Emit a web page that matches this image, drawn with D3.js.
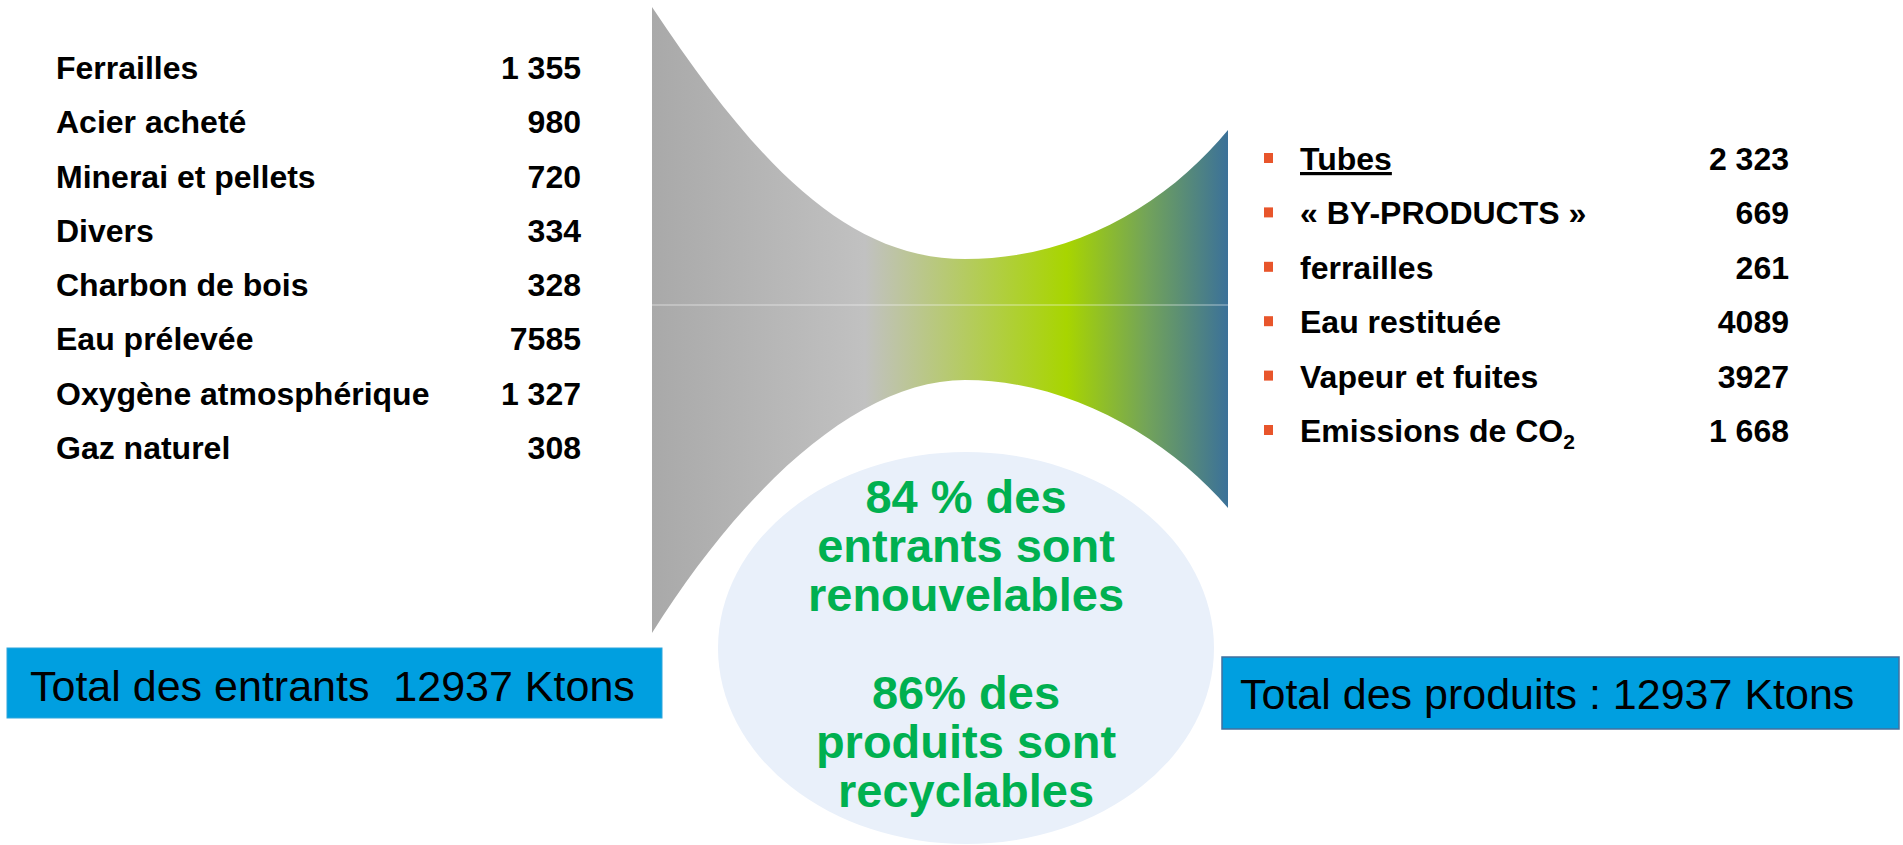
<!DOCTYPE html>
<html>
<head>
<meta charset="utf-8">
<script src="https://cdn.jsdelivr.net/npm/d3@7"></script>
<style>
  body { margin: 0; background: #fff; }
  svg { display: block; font-family: "Liberation Sans", Arial, sans-serif; }
</style>
</head>
<body>
<svg width="1903" height="845"></svg>
<script>
// entrants (Ktons)
var inputLabels = ["Ferrailles", "Acier acheté", "Minerai et pellets", "Divers",
                   "Charbon de bois", "Eau prélevée", "Oxygène atmosphérique", "Gaz naturel"];
var inputValues = [1355, 980, 720, 334, 328, 7585, 1327, 308];
var inputText   = ["1 355", "980", "720", "334", "328", "7585", "1 327", "308"];

// produits (Ktons)
var outputLabels = ["Tubes", "« BY-PRODUCTS »", "ferrailles", "Eau restituée",
                    "Vapeur et fuites", "Emissions de CO"];
var outputValues = [2323, 669, 261, 4089, 3927, 1668];
var outputText   = ["2 323", "669", "261", "4089", "3927", "1 668"];

var totalIn = "Total des entrants  12937 Ktons";
var totalOut = "Total des produits : 12937 Ktons";
var bubbleLines = ["84 % des", "entrants sont", "renouvelables", "",
                   "86% des", "produits sont", "recyclables"];

var svg = d3.select("svg");

/* funnel shape */
var defs = svg.append("defs");
var grad = defs.append("linearGradient")
    .attr("id", "funnelGrad")
    .attr("gradientUnits", "userSpaceOnUse")
    .attr("x1", 652).attr("x2", 1228).attr("y1", 0).attr("y2", 0);
[[0, "#a9a9a9"], [0.37, "#c1c1c1"], [0.72, "#a8d500"], [0.86, "#72a35a"], [1, "#3b7199"]]
  .forEach(function(s) {
    grad.append("stop").attr("offset", s[0]).attr("stop-color", s[1]);
  });

var p = d3.path();
p.moveTo(652, 7);
p.bezierCurveTo(760, 170, 850, 259, 965, 259);
p.bezierCurveTo(1080, 259, 1170, 200, 1228, 130);
p.lineTo(1228, 508);
p.bezierCurveTo(1170, 440, 1070, 380, 965, 380);
p.bezierCurveTo(860, 380, 745, 485, 652, 633);
p.closePath();

svg.append("path")
    .attr("d", p.toString())
    .attr("fill", "url(#funnelGrad)");

svg.append("line")
    .attr("x1", 652).attr("x2", 1228)
    .attr("y1", 305).attr("y2", 305)
    .attr("stroke", "#ffffff").attr("stroke-opacity", 0.55)
    .attr("stroke-width", 1);

/* bubble */
svg.append("ellipse")
    .attr("cx", 966).attr("cy", 648)
    .attr("rx", 248).attr("ry", 196)
    .attr("fill", "#e9f0fa");

var yBubble = d3.scalePoint()
    .domain(d3.range(bubbleLines.length))
    .range([513, 807]);

svg.append("g").selectAll("text")
    .data(bubbleLines)
    .enter().append("text")
      .attr("x", 966)
      .attr("y", function(d, i) { return yBubble(i); })
      .attr("text-anchor", "middle")
      .attr("fill", "#00b050")
      .attr("font-weight", "bold")
      .attr("font-size", 47)
      .text(function(d) { return d; });

/* left list */
var yIn = d3.scalePoint().domain(inputLabels).range([79, 459]);

var rowsIn = svg.append("g").selectAll("g")
    .data(inputLabels)
    .enter().append("g")
      .attr("transform", function(d) { return "translate(0," + yIn(d) + ")"; });

rowsIn.append("text")
    .attr("x", 56)
    .attr("font-size", 32).attr("font-weight", "bold")
    .text(function(d) { return d; });

rowsIn.append("text")
    .attr("x", 581)
    .attr("text-anchor", "end")
    .attr("font-size", 32).attr("font-weight", "bold")
    .text(function(d, i) { return inputText[i]; });

/* right list */
var yOut = d3.scalePoint().domain(outputLabels).range([170, 442]);

var rowsOut = svg.append("g").selectAll("g")
    .data(outputLabels)
    .enter().append("g")
      .attr("transform", function(d) { return "translate(0," + yOut(d) + ")"; });

rowsOut.append("rect")
    .attr("x", 1264).attr("y", -17)
    .attr("width", 9).attr("height", 10)
    .attr("fill", "#e8552b");

var lbl = rowsOut.append("text")
    .attr("x", 1300)
    .attr("font-size", 32).attr("font-weight", "bold")
    .attr("text-decoration", function(d, i) { return i === 0 ? "underline" : null; })
    .text(function(d) { return d; });

lbl.filter(function(d, i) { return i === outputLabels.length - 1; })
  .append("tspan")
    .attr("font-size", 21)
    .attr("dy", 7)
    .text("2");

rowsOut.append("text")
    .attr("x", 1789)
    .attr("text-anchor", "end")
    .attr("font-size", 32).attr("font-weight", "bold")
    .text(function(d, i) { return outputText[i]; });

/* total boxes */
svg.append("rect")
    .attr("x", 7).attr("y", 648)
    .attr("width", 655).attr("height", 70)
    .attr("fill", "#009fe0")
    .attr("stroke", "#2fa6dc").attr("stroke-width", 1);

svg.append("text")
    .attr("x", 30).attr("y", 701)
    .attr("font-size", 43)
    .style("white-space", "pre")
    .text(totalIn);

svg.append("rect")
    .attr("x", 1222).attr("y", 657)
    .attr("width", 677).attr("height", 72)
    .attr("fill", "#009fe0")
    .attr("stroke", "#41709f").attr("stroke-width", 1.5);

svg.append("text")
    .attr("x", 1240).attr("y", 709)
    .attr("font-size", 43)
    .style("white-space", "pre")
    .text(totalOut);
</script>
</body>
</html>
